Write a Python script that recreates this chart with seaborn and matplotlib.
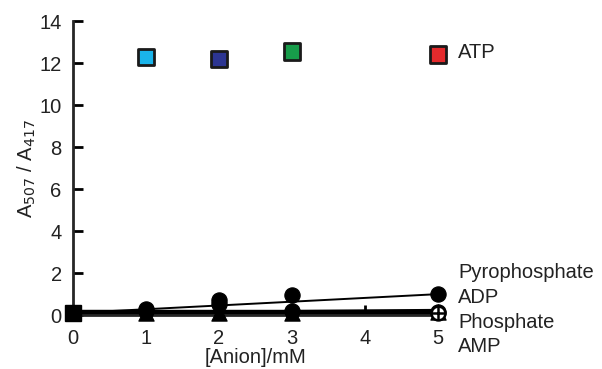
import numpy as np
import pandas as pd
import matplotlib
matplotlib.use("Agg")
import matplotlib.pyplot as plt
import seaborn as sns

# data
atp_x = [1, 2, 3, 5]
atp_y = [12.3, 12.2, 12.55, 12.4]
atp_colors = ["#1ab4ea", "#2c3592", "#179c4a", "#e42a2c"]

pyro_x = [0, 1, 2, 3, 5]
pyro_y = [0.1, 0.3, 0.7, 0.95, 1.0]
adp_x = [1, 2, 3, 5]
adp_y = [0.2, 0.55, 0.2, 0.15]
phos_x = [0, 1, 2, 3, 5]
phos_y = [0.1, 0.1, 0.1, 0.1, 0.15]
amp_x = [0, 5]
amp_y = [0.1, 0.1]

series_labels = ["Pyrophosphate", "ADP", "Phosphate", "AMP"]
label_y = [2.05, 0.86, -0.33, -1.48]

sns.set_style("ticks")
plt.rcParams["font.family"] = ["Liberation Sans", "DejaVu Sans"]

fig = plt.figure(figsize=(6.02, 3.69), dpi=100)
ax = fig.add_axes([0.121, 0.146, 0.607, 0.797])

# thick baseline lines (phosphate / AMP) and thin pyrophosphate trend
sns.lineplot(x=phos_x, y=phos_y, ax=ax, color="black", lw=4.5)
sns.lineplot(x=amp_x, y=amp_y, ax=ax, color="black", lw=4.5)
sns.lineplot(x=[pyro_x[0], pyro_x[-1]], y=[pyro_y[0], pyro_y[-1]], ax=ax, color="black", lw=1.4)

# markers
sns.scatterplot(x=phos_x[1:], y=phos_y[1:], ax=ax, marker="^", s=120, color="black",
                edgecolor="black", zorder=4, clip_on=False)
sns.scatterplot(x=adp_x, y=adp_y, ax=ax, marker="o", s=120, color="black",
                edgecolor="black", zorder=4, clip_on=False)
sns.scatterplot(x=pyro_x[1:], y=pyro_y[1:], ax=ax, marker="o", s=120, color="black",
                edgecolor="black", zorder=4, clip_on=False)
ax.plot(amp_x[1:], amp_y[1:], marker="o", ms=10, mfc="white", mec="black", mew=1.8,
        ls="none", zorder=5, clip_on=False)
ax.plot(amp_x[1:], amp_y[1:], marker="+", ms=10, mec="black", mew=1.8,
        ls="none", zorder=6, clip_on=False)
ax.plot([0], [0.1], marker="s", ms=12, color="black", ls="none", zorder=6, clip_on=False)

atp = pd.DataFrame({"x": atp_x, "y": atp_y, "c": [str(i) for i in range(len(atp_x))]})
sns.scatterplot(data=atp, x="x", y="y", hue="c", palette=atp_colors, marker="s", s=140,
                edgecolor="#1a1a1a", linewidth=2, ax=ax, legend=False, zorder=5, clip_on=False)

ax.set_xlim(0, 5)
ax.set_ylim(0, 14)
ax.set_xticks([0, 1, 2, 3, 4, 5])
ax.set_yticks(np.arange(0, 15, 2))
ax.tick_params(direction="in", length=7, width=2, labelsize=14.5, colors="black",
               labelcolor="#222222")
ax.tick_params(axis="x", pad=10)
ax.tick_params(axis="y", pad=8)
for side in ["top", "right"]:
    ax.spines[side].set_visible(False)
ax.spines["left"].set_linewidth(2)
ax.spines["bottom"].set_linewidth(2)

ax.set_xlabel("[Anion]/mM", fontsize=14.5, color="#222222")
ax.set_ylabel("A$_{507}$ / A$_{417}$", fontsize=14.5, color="#222222")
ax.xaxis.set_label_coords(0.5, -0.113)
ax.yaxis.set_label_coords(-0.096, 0.5)

for lab, yy in zip(series_labels, label_y):
    ax.text(5.27, yy, lab, fontsize=14.5, va="center", ha="left", color="#222222", clip_on=False)
ax.text(5.27, 12.5, "ATP", fontsize=14.5, va="center", ha="left", color="#222222", clip_on=False)

fig.savefig("out.png", dpi=100)
